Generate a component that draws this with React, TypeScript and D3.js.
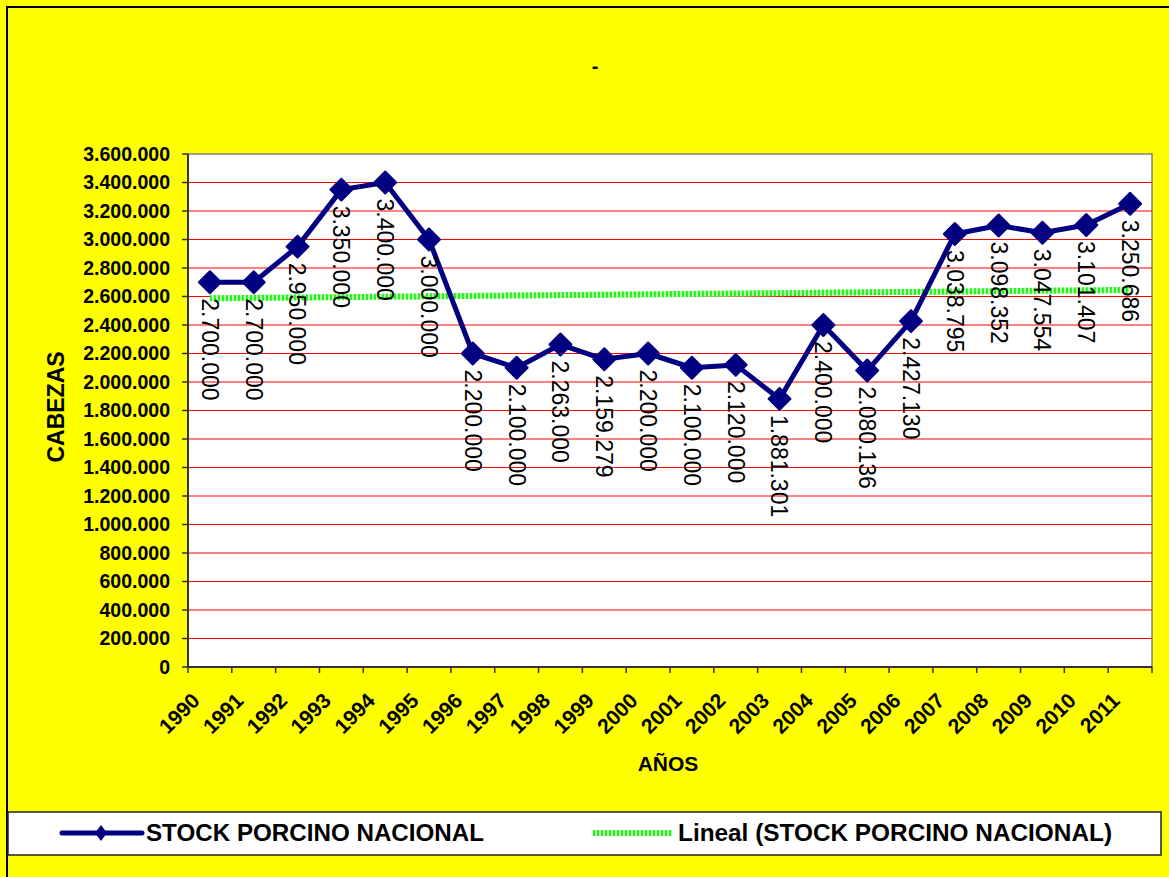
import React from "react";
import * as d3 from "d3";

const years = ["1990","1991","1992","1993","1994","1995","1996","1997","1998","1999","2000","2001","2002","2003","2004","2005","2006","2007","2008","2009","2010","2011"];
const stock = [2700000,2700000,2950000,3350000,3400000,3000000,2200000,2100000,2263000,2159279,2200000,2100000,2120000,1881301,2400000,2080136,2427130,3038795,3098352,3047554,3101407,3250686];
const yTicks = [0,200000,400000,600000,800000,1000000,1200000,1400000,1600000,1800000,2000000,2200000,2400000,2600000,2800000,3000000,3200000,3400000,3600000];
const seriesName = "STOCK PORCINO NACIONAL";
const trendName = "Lineal (STOCK PORCINO NACIONAL)";
const yTitle = "CABEZAS";
const xTitle = "AÑOS";
const chartTitle = "-";

const W = 1169, H = 877;
const L = 188, R = 1152, T = 154, B = 667;

export default function App() {
  const x = d3.scaleBand<string>().domain(years).range([L, R]).padding(0);
  const y = d3.scaleLinear().domain([0, 3600000]).range([B, T]);
  const cx = (yr: string) => (x(yr) as number) + x.bandwidth() / 2;
  const loc = d3.formatLocale({ decimal: ",", thousands: ".", grouping: [3], currency: ["", ""] });
  const fmt = loc.format(",d");

  // linear trend (least squares over series index)
  const n = stock.length;
  const xs = d3.range(n);
  const mx = d3.mean(xs) as number;
  const my = d3.mean(stock) as number;
  let sxy = 0, sxx = 0;
  xs.forEach((i) => { sxy += (i - mx) * (stock[i] - my); sxx += (i - mx) * (i - mx); });
  const slope = sxy / sxx;
  const icpt = my - slope * mx;
  const trendStart = icpt;
  const trendEnd = icpt + slope * (n - 1);

  const line = d3.line<number>().x((_, i) => cx(years[i])).y((d) => y(d));
  const font = "'Liberation Sans', Arial, sans-serif";
  const dm = 11;
  const diamond = `M0,${-dm} L${dm},0 L0,${dm} L${-dm},0 Z`;

  return (
    <svg width={W} height={H} style={{ position: "absolute", left: 0, top: 0, fontFamily: font }}>
      <rect x={0} y={0} width={W} height={H} fill="#ffff00" />
      <rect x={7} y={7} width={W + 20} height={H + 20} fill="none" stroke="#000" strokeWidth={2} />
      <text x={595} y={73} textAnchor="middle" fontSize={20} fontWeight="bold">{chartTitle}</text>

      {/* plot area */}
      <rect x={L} y={T} width={R - L} height={B - T} fill="#fff" stroke="#808080" strokeWidth={1.5} />
      {yTicks.filter((t) => t > 0 && t < 3600000).map((t) => (
        <line key={t} x1={L} x2={R} y1={y(t)} y2={y(t)} stroke="#ff0000" strokeWidth={1} />
      ))}
      {/* axes */}
      <line x1={L} x2={L} y1={T} y2={B} stroke="#333" strokeWidth={2} />
      <line x1={L} x2={R} y1={B} y2={B} stroke="#333" strokeWidth={2} />
      {yTicks.map((t) => (
        <g key={"yt" + t}>
          <line x1={L - 6} x2={L} y1={y(t)} y2={y(t)} stroke="#333" strokeWidth={1.5} />
          <text x={170} y={y(t)} dy="0.35em" textAnchor="end" fontSize={19.5} fontWeight="bold">{fmt(t)}</text>
        </g>
      ))}
      {years.map((yr) => (
        <line key={"xt" + yr} x1={x(yr) as number} x2={x(yr) as number} y1={B} y2={B + 6} stroke="#333" strokeWidth={1.5} />
      ))}
      <line x1={R} x2={R} y1={B} y2={B + 6} stroke="#333" strokeWidth={1.5} />
      {years.map((yr) => (
        <text key={"xl" + yr} transform={`translate(${cx(yr) - 9},${702}) rotate(-45)`} textAnchor="end" fontSize={21} fontWeight="bold">{yr}</text>
      ))}

      {/* trend line */}
      <line x1={cx(years[0])} x2={cx(years[n - 1])} y1={y(trendStart)} y2={y(trendEnd)} stroke="#b8ffa8" strokeWidth={6} />
      <line x1={cx(years[0])} x2={cx(years[n - 1])} y1={y(trendStart)} y2={y(trendEnd)} stroke="#22ee22" strokeWidth={6} strokeDasharray="2 2" />

      {/* series */}
      <path d={line(stock) as string} fill="none" stroke="#000080" strokeWidth={5} strokeLinejoin="round" />
      {stock.map((v, i) => (
        <path key={"m" + i} d={diamond} transform={`translate(${cx(years[i])},${y(v)})`} fill="#000080" stroke="#000080" strokeWidth={2} strokeLinejoin="round" />
      ))}
      {stock.map((v, i) => (
        <text key={"dl" + i} transform={`translate(${cx(years[i])},${y(v) + 16}) rotate(90)`} dy="0.35em" textAnchor="start" fontSize={23}>{fmt(v)}</text>
      ))}

      {/* axis titles */}
      <text transform={`translate(56,407) rotate(-90)`} dy="0.35em" textAnchor="middle" fontSize={23} fontWeight="bold">{yTitle}</text>
      <text x={668} y={771} textAnchor="middle" fontSize={21} fontWeight="bold">{xTitle}</text>

      {/* legend */}
      <rect x={8} y={812} width={1153} height={43} fill="#fff" stroke="#222" strokeWidth={1.5} />
      <line x1={62} x2={142} y1={833} y2={833} stroke="#000080" strokeWidth={5} strokeLinecap="round" />
      <path d="M101,825 L107,833 L101,841 L95,833 Z" fill="#000080" />
      <text x={146} y={833} dy="0.36em" fontSize={23} fontWeight="bold" textLength={338} lengthAdjust="spacingAndGlyphs">{seriesName}</text>
      <line x1={593} x2={672} y1={833} y2={833} stroke="#b8ffa8" strokeWidth={6} />
      <line x1={593} x2={672} y1={833} y2={833} stroke="#22ee22" strokeWidth={6} strokeDasharray="2 2" />
      <text x={678} y={833} dy="0.36em" fontSize={23} fontWeight="bold" textLength={434} lengthAdjust="spacingAndGlyphs">{trendName}</text>
    </svg>
  );
}
